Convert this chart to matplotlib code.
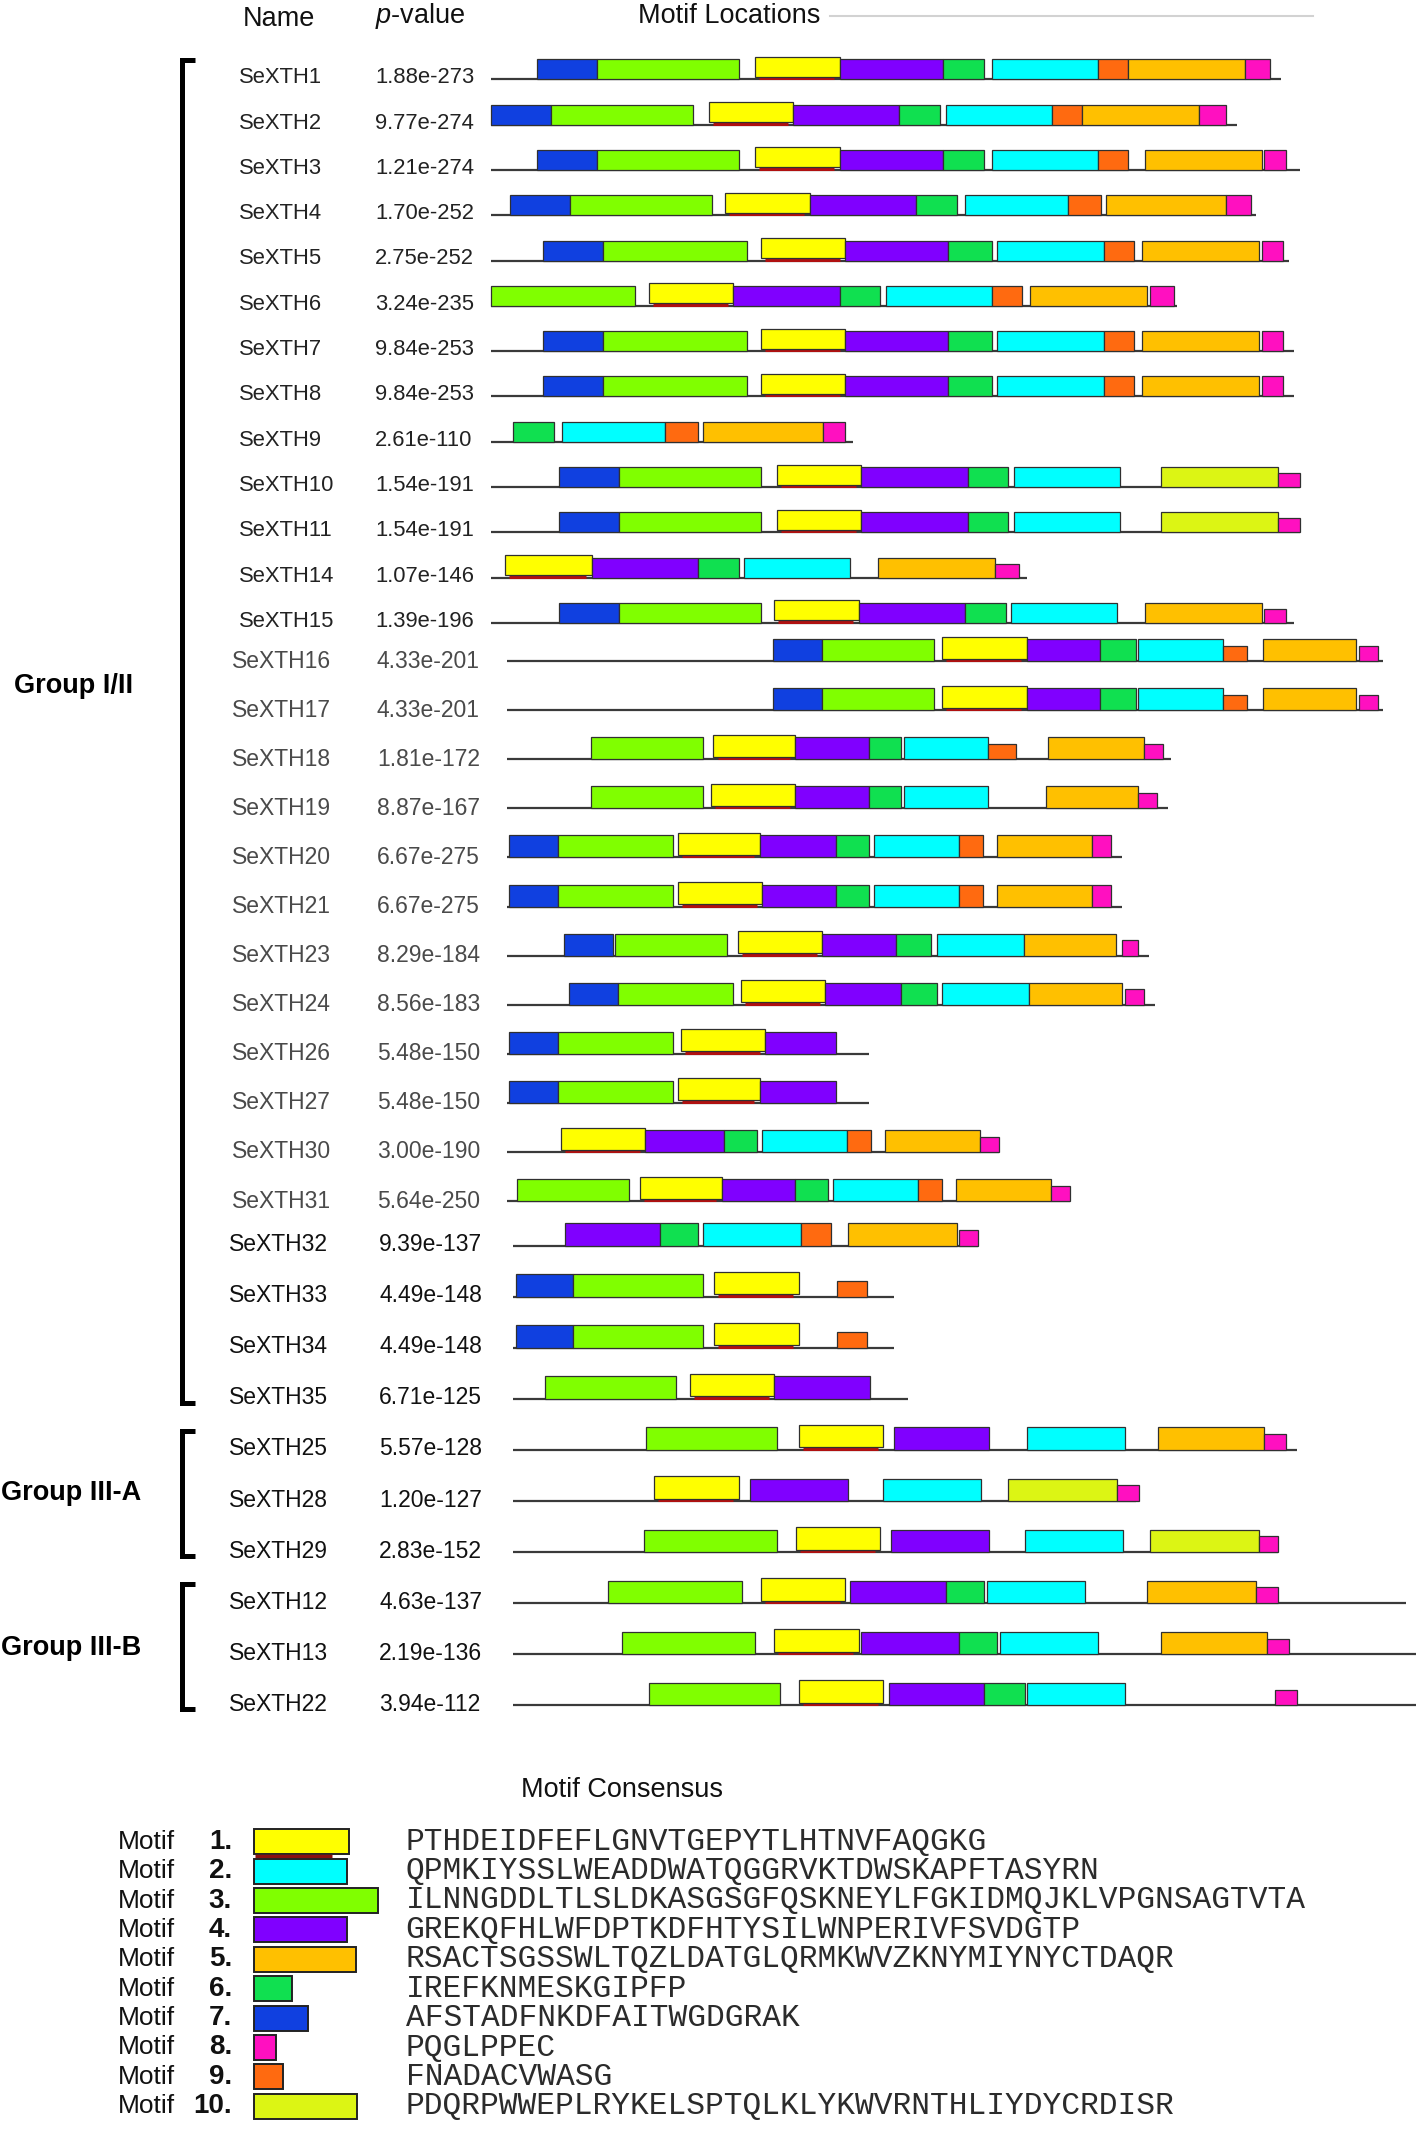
import matplotlib
matplotlib.use("Agg")
import matplotlib.pyplot as plt
from matplotlib.patches import Rectangle
from matplotlib.transforms import blended_transform_factory

plt.rcParams['font.family'] = ['Liberation Sans', 'DejaVu Sans']
plt.rcParams['mathtext.fontset'] = 'custom'
plt.rcParams['mathtext.it'] = 'Liberation Sans:italic'
plt.rcParams['mathtext.rm'] = 'Liberation Sans'

W, H = 1416, 2135
PX_PER_AA = 2.723   # horizontal scale of the motif tracks (pixels per residue)

# motif colours (MEME style)
motif_colors = {1: '#ffff00', 2: '#00ffff', 3: '#80ff00', 4: '#8000ff', 5: '#ffc000',
                6: '#10e050', 7: '#1040e0', 8: '#ff10c0', 9: '#ff6a10', 10: '#dcf514'}

motif_consensus = [
    'PTHDEIDFEFLGNVTGEPYTLHTNVFAQGKG',
    'QPMKIYSSLWEADDWATQGGRVKTDWSKAPFTASYRN',
    'ILNNGDDLTLSLDKASGSGFQSKNEYLFGKIDMQJKLVPGNSAGTVTA',
    'GREKQFHLWFDPTKDFHTYSILWNPERIVFSVDGTP',
    'RSACTSGSSWLTQZLDATGLQRMKWVZKNYMIYNYCTDAQR',
    'IREFKNMESKGIPFP',
    'AFSTADFNKDFAITWGDGRAK',
    'PQGLPPEC',
    'FNADACVWASG',
    'PDQRPWWEPLRYKELSPTQLKLYKWVRNTHLIYDYCRDISR',
]
legend_box_len = [35, 34, 45.5, 34, 37.5, 14, 20, 8, 10.5, 38]

# ---- panel 1 ----
names_1 = ['SeXTH1', 'SeXTH2', 'SeXTH3', 'SeXTH4', 'SeXTH5', 'SeXTH6', 'SeXTH7',
           'SeXTH8', 'SeXTH9', 'SeXTH10', 'SeXTH11', 'SeXTH14', 'SeXTH15']
pvals_1 = ['1.88e-273', '9.77e-274', '1.21e-274', '1.70e-252', '2.75e-252', '3.24e-235',
           '9.84e-253', '9.84e-253', '2.61e-110', '1.54e-191', '1.54e-191', '1.07e-146', '1.39e-196']
lengths_1 = [290, 274, 297, 281, 293, 252, 295, 295, 133, 297, 297, 197, 295]
hits_1 = [
    [(7, 17, 39), (3, 39, 91), (1, 97, 128), (4, 128, 166), (6, 166, 181), (2, 184, 223), (9, 223, 234), (5, 234, 277), (8, 277, 286)],
    [(7, 0, 22), (3, 22, 74), (1, 80, 111), (4, 111, 150), (6, 150, 165), (2, 167, 206), (9, 206, 217), (5, 217, 260), (8, 260, 270)],
    [(7, 17, 39), (3, 39, 91), (1, 97, 128), (4, 128, 166), (6, 166, 181), (2, 184, 223), (9, 223, 234), (5, 240, 283), (8, 284, 292)],
    [(7, 7, 29), (3, 29, 81), (1, 86, 117), (4, 117, 156), (6, 156, 171), (2, 174, 212), (9, 212, 224), (5, 226, 270), (8, 270, 279)],
    [(7, 19, 41), (3, 41, 94), (1, 99, 130), (4, 130, 168), (6, 168, 184), (2, 186, 225), (9, 225, 236), (5, 239, 282), (8, 283, 291)],
    [(3, 0, 53), (1, 58, 89), (4, 89, 128), (6, 128, 143), (2, 145, 184), (9, 184, 195), (5, 198, 241), (8, 242, 251)],
    [(7, 19, 41), (3, 41, 94), (1, 99, 130), (4, 130, 168), (6, 168, 184), (2, 186, 225), (9, 225, 236), (5, 239, 282), (8, 283, 291)],
    [(7, 19, 41), (3, 41, 94), (1, 99, 130), (4, 130, 168), (6, 168, 184), (2, 186, 225), (9, 225, 236), (5, 239, 282), (8, 283, 291)],
    [(6, 8, 23), (2, 26, 64), (9, 64, 76), (5, 78, 122), (8, 122, 130)],
    [(7, 25, 47), (3, 47, 99), (1, 105, 136), (4, 136, 175), (6, 175, 190), (2, 192, 231), (10, 246, 289), (8, 289, 297)],
    [(7, 25, 47), (3, 47, 99), (1, 105, 136), (4, 136, 175), (6, 175, 190), (2, 192, 231), (10, 246, 289), (8, 289, 297)],
    [(1, 5, 37), (4, 37, 76), (6, 76, 91), (2, 93, 132), (5, 142, 185), (8, 185, 194)],
    [(7, 25, 47), (3, 47, 99), (1, 104, 135), (4, 135, 174), (6, 174, 189), (2, 191, 230), (5, 240, 283), (8, 284, 292)],
]

# ---- panel 2 ----
names_2 = ['SeXTH16', 'SeXTH17', 'SeXTH18', 'SeXTH19', 'SeXTH20', 'SeXTH21',
           'SeXTH23', 'SeXTH24', 'SeXTH26', 'SeXTH27', 'SeXTH30', 'SeXTH31']
pvals_2 = ['4.33e-201', '4.33e-201', '1.81e-172', '8.87e-167', '6.67e-275', '6.67e-275',
           '8.29e-184', '8.56e-183', '5.48e-150', '5.48e-150', '3.00e-190', '5.64e-250']
lengths_2 = [322, 322, 244, 243, 226, 226, 236, 238, 133, 133, 181, 207]
hits_2 = [
    [(7, 98, 116), (3, 116, 157), (1, 160, 191), (4, 191, 218), (6, 218, 231), (2, 232, 263), (9, 263, 272), (5, 278, 312), (8, 313, 320)],
    [(7, 98, 116), (3, 116, 157), (1, 160, 191), (4, 191, 218), (6, 218, 231), (2, 232, 263), (9, 263, 272), (5, 278, 312), (8, 313, 320)],
    [(3, 31, 72), (1, 76, 106), (4, 106, 133), (6, 133, 145), (2, 146, 177), (9, 177, 187), (5, 199, 234), (8, 234, 241)],
    [(3, 31, 72), (1, 75, 106), (4, 106, 133), (6, 133, 145), (2, 146, 177), (5, 198, 232), (8, 232, 239)],
    [(7, 1, 19), (3, 19, 61), (1, 63, 93), (4, 93, 121), (6, 121, 133), (2, 135, 166), (9, 166, 175), (5, 180, 215), (8, 215, 222)],
    [(7, 1, 19), (3, 19, 61), (1, 63, 94), (4, 94, 121), (6, 121, 133), (2, 135, 166), (9, 166, 175), (5, 180, 215), (8, 215, 222)],
    [(7, 21, 39), (3, 40, 81), (1, 85, 116), (4, 116, 143), (6, 143, 156), (2, 158, 190), (5, 190, 224), (8, 226, 232)],
    [(7, 23, 41), (3, 41, 83), (1, 86, 117), (4, 117, 145), (6, 145, 158), (2, 160, 192), (5, 192, 226), (8, 227, 234)],
    [(7, 1, 19), (3, 19, 61), (1, 64, 95), (4, 95, 121)],
    [(7, 1, 19), (3, 19, 61), (1, 63, 93), (4, 93, 121)],
    [(1, 20, 51), (4, 51, 80), (6, 80, 92), (2, 94, 125), (9, 125, 134), (5, 139, 174), (8, 174, 181)],
    [(3, 4, 45), (1, 49, 79), (4, 79, 106), (6, 106, 118), (2, 120, 151), (9, 151, 160), (5, 165, 200), (8, 200, 207)],
]

# ---- panel 3 ----
names_3 = ['SeXTH32', 'SeXTH33', 'SeXTH34', 'SeXTH35', 'SeXTH25', 'SeXTH28',
           'SeXTH29', 'SeXTH12', 'SeXTH13', 'SeXTH22']
pvals_3 = ['9.39e-137', '4.49e-148', '4.49e-148', '6.71e-125', '5.57e-128', '1.20e-127',
           '2.83e-152', '4.63e-137', '2.19e-136', '3.94e-112']
lengths_3 = [171, 140, 140, 145, 288, 229, 281, 328, 333, 333]
hits_3 = [
    [(4, 19, 54), (6, 54, 68), (2, 70, 106), (9, 106, 117), (5, 123, 163), (8, 164, 171)],
    [(7, 1, 22), (3, 22, 70), (1, 74, 105), (9, 119, 130)],
    [(7, 1, 22), (3, 22, 70), (1, 74, 105), (9, 119, 130)],
    [(3, 12, 60), (1, 65, 96), (4, 96, 131)],
    [(3, 49, 97), (1, 105, 136), (4, 140, 175), (2, 189, 225), (5, 237, 276), (8, 276, 284)],
    [(1, 52, 83), (4, 87, 123), (2, 136, 172), (10, 182, 222), (8, 222, 230)],
    [(3, 48, 97), (1, 104, 135), (4, 139, 175), (2, 188, 224), (10, 234, 274), (8, 274, 281)],
    [(3, 35, 84), (1, 91, 122), (4, 124, 159), (6, 159, 173), (2, 174, 210), (5, 233, 273), (8, 273, 281)],
    [(3, 40, 89), (1, 96, 127), (4, 128, 164), (6, 164, 178), (2, 179, 215), (5, 238, 277), (8, 277, 285)],
    [(3, 50, 98), (1, 105, 136), (4, 138, 173), (6, 173, 188), (2, 189, 225), (8, 280, 288)],
]

# hits drawn with a lower box (weaker match)
weak_hits = {('SeXTH10', 8), ('SeXTH11', 8), ('SeXTH14', 8), ('SeXTH15', 8),
             ('SeXTH16', 9), ('SeXTH16', 8), ('SeXTH17', 9), ('SeXTH17', 8),
             ('SeXTH18', 9), ('SeXTH18', 8), ('SeXTH19', 8), ('SeXTH23', 8),
             ('SeXTH24', 8), ('SeXTH30', 8), ('SeXTH31', 8), ('SeXTH32', 8),
             ('SeXTH33', 9), ('SeXTH34', 9), ('SeXTH25', 8), ('SeXTH28', 8),
             ('SeXTH29', 8), ('SeXTH12', 8), ('SeXTH13', 8), ('SeXTH22', 8)}

groups = ['Group I/II', 'Group III-A', 'Group III-B']
group_first = ['SeXTH1', 'SeXTH25', 'SeXTH12']
group_last = ['SeXTH35', 'SeXTH29', 'SeXTH22']

# layout of the three stacked panels (pixels)
panels = [
    dict(names=names_1, pvals=pvals_1, lengths=lengths_1, hits=hits_1,
         x0=491, y0=79.3, dy=45.3, box=20, name_x=239, p_x=375, txt_dy=4,
         fs=15.8, color='#222222'),
    dict(names=names_2, pvals=pvals_2, lengths=lengths_2, hits=hits_2,
         x0=506.5, y0=661, dy=49.1, box=22, name_x=232, p_x=377, txt_dy=6.5,
         fs=16.5, color='#4a4a4a'),
    dict(names=names_3, pvals=pvals_3, lengths=lengths_3, hits=hits_3,
         x0=512.8, y0=1245.7, dy=51.07, box=22.5, name_x=229, p_x=379, txt_dy=5.5,
         fs=16.5, color='#111111'),
]


def px_axes(fig, left, top, right, bottom):
    return fig.add_axes([left / W, 1 - bottom / H, (right - left) / W, (bottom - top) / H])


fig = plt.figure(figsize=(W / 100, H / 100), dpi=100)

# overlay in pixel coordinates for headers, brackets and group labels
ov = px_axes(fig, 0, 0, W, H)
ov.set_xlim(0, W)
ov.set_ylim(H, 0)
ov.axis('off')

row_y = {}
for pn in panels:
    n = len(pn['names'])
    top = pn['y0'] - pn['dy']
    bot = pn['y0'] + pn['dy'] * (n - 0.5)
    ax = px_axes(fig, pn['x0'], top, W, bot)
    ax.set_xlim(0, (W - pn['x0']) / PX_PER_AA)
    ax.set_ylim((bot - pn['y0']) / pn['dy'], (top - pn['y0']) / pn['dy'])
    ax.axis('off')
    tr = blended_transform_factory(fig.transFigure, ax.transData)
    bh = pn['box'] / pn['dy']
    for i, (name, pv, L, hs) in enumerate(zip(pn['names'], pn['pvals'], pn['lengths'], pn['hits'])):
        row_y[name] = pn['y0'] + i * pn['dy']
        ax.plot([0, L], [i, i], color='#3a3a3a', lw=1.6, solid_capstyle='butt',
                zorder=1, clip_on=False)
        for m, s, e in hs:
            h = bh * (0.7 if (name, m) in weak_hits else 1.0)
            lift = 0.0
            if m == 1:
                lift = 2.5 / pn['dy']
                ax.plot([s + 1.5, e - 2], [i - 0.02, i - 0.02], color='#b01010', lw=2.2,
                        solid_capstyle='butt', zorder=1.5, clip_on=False)
            ax.add_patch(Rectangle((s, i - h - lift), e - s, h, facecolor=motif_colors[m],
                                   edgecolor='#303030', lw=0.9, zorder=2, clip_on=False))
        ty = i + pn['txt_dy'] / pn['dy']
        ax.text(pn['name_x'] / W, ty, name, transform=tr, ha='left', va='baseline',
                fontsize=pn['fs'], color=pn['color'])
        ax.text(pn['p_x'] / W, ty, pv, transform=tr, ha='left', va='baseline',
                fontsize=pn['fs'], color=pn['color'])

# headers
ov.text(243, 26.5, 'Name', fontsize=19.5, ha='left', va='baseline', color='#111111')
ov.text(375, 23, '$p$-value', fontsize=19.5, ha='left', va='baseline', color='#111111')
ov.text(638, 23, 'Motif Locations', fontsize=19.5, ha='left', va='baseline', color='#111111')
ov.plot([830, 1313], [15.7, 15.7], color='#d2d2d2', lw=1.5)

# group brackets
label_x = [14, 1, 1]
label_y = [686, 1493, 1648]
for g, first, last, lx, ly in zip(groups, group_first, group_last, label_x, label_y):
    ytop = row_y[first] - 19
    ybot = row_y[last] + 4
    ov.plot([195, 181.5, 181.5, 195], [ytop, ytop, ybot, ybot], color='black', lw=3.6,
            solid_joinstyle='miter', solid_capstyle='butt')
    ov.text(lx, ly, g, fontsize=19.5, fontweight='bold', ha='left', va='center', color='black')

# motif consensus legend
ov.text(622, 1790, 'Motif Consensus', fontsize=19.5, ha='center', va='center', color='#111111')
leg_y0, leg_dy, leg_left = 1841.7, 29.4, 254
lg_top = leg_y0 - leg_dy
lg_bot = leg_y0 + leg_dy * 9.6
lg = px_axes(fig, leg_left, lg_top, W, lg_bot)
lg.set_xlim(0, (W - leg_left) / PX_PER_AA)
lg.set_ylim((lg_bot - leg_y0) / leg_dy, (lg_top - leg_y0) / leg_dy)
lg.axis('off')
ltr = blended_transform_factory(fig.transFigure, lg.transData)
for k, (seq, blen) in enumerate(zip(motif_consensus, legend_box_len)):
    m = k + 1
    hb = 25 / leg_dy
    lg.add_patch(Rectangle((0, k - hb / 2), blen, hb, facecolor=motif_colors[m],
                           edgecolor='#222222', lw=1.4, zorder=2, clip_on=False))
    if m == 1:
        lg.plot([0.5, blen * 0.82], [k + hb / 2 + 0.07, k + hb / 2 + 0.07], color='#8a1010',
                lw=2.5, solid_capstyle='butt', clip_on=False)
    lg.text(118 / W, k, 'Motif', transform=ltr, fontsize=19, ha='left', va='center', color='#111111')
    lg.text(232 / W, k, f'{m}.', transform=ltr, fontsize=20, fontweight='bold',
            ha='right', va='center', color='#111111')
    lg.text(405.7 / W, k, seq, transform=ltr, fontsize=22.5, ha='left', va='center',
            family=['Liberation Mono', 'DejaVu Sans Mono'], color='#2b2b2b')

fig.savefig('out.png', dpi=100)
